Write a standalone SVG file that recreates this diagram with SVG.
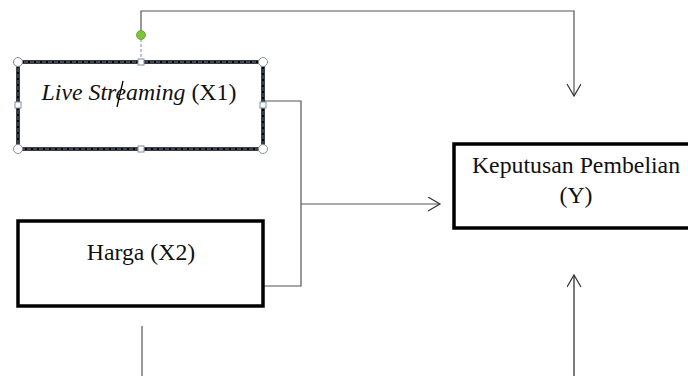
<svg xmlns="http://www.w3.org/2000/svg" width="688" height="376" viewBox="0 0 688 376">
<style>
.box{fill:#fff;stroke:#000;stroke-width:3.5}
.lbl{font-family:"Liberation Serif","Times New Roman",serif;font-size:23.8px;fill:#111;text-anchor:middle}
.con{fill:none;stroke:#555;stroke-width:1.2}
.arr{fill:none;stroke:#222;stroke-width:1.2}
.h-c{fill:#fff;stroke:#8a9099;stroke-width:1}
.h-s{fill:#fff;stroke:#7d8fa8;stroke-width:1}
</style>
<defs>
<marker id="open" markerWidth="16" markerHeight="16" refX="13" refY="7" orient="auto" markerUnits="userSpaceOnUse">
<path d="M1,0 L13,7 L1,14" fill="none" stroke="#333" stroke-width="1.2"/>
</marker>
</defs>
<rect width="688" height="376" fill="#fff"/>
<g id="connectors">
<path class="con" d="M141,35 V11 H574 V96" marker-end="url(#open)"/>
<path class="con" d="M263,101 H301 V286 H263"/>
<path class="con" d="M301,204 H440" marker-end="url(#open)"/>
<path class="con" d="M142,326 V376"/>
<path class="arr" d="M574,376 V275" marker-end="url(#open)"/>
</g>
<g id="x1">
<rect class="box" x="18" y="62" width="245" height="87"/>
<rect x="18" y="62" width="245" height="87" fill="none" stroke="#4a5d78" stroke-width="1.3" stroke-dasharray="4,2"/>
<text class="lbl" x="139" y="100"><tspan font-style="italic">Live Streaming</tspan> (X1)</text>
<line x1="123" y1="81" x2="117" y2="107" stroke="#000" stroke-width="1.3"/>
<line x1="141" y1="39" x2="141" y2="59" stroke="#7d8fa8" stroke-width="1" stroke-dasharray="3,2"/>
<circle cx="141" cy="35" r="4.5" fill="#7ec43b" stroke="#5a9a2a" stroke-width="0.8"/>
<circle class="h-c" cx="18" cy="62" r="4.5"/>
<circle class="h-c" cx="263" cy="62" r="4.5"/>
<circle class="h-c" cx="18" cy="149" r="4.5"/>
<circle class="h-c" cx="263" cy="149" r="4.5"/>
<rect class="h-s" x="138" y="59" width="6" height="6"/>
<rect class="h-s" x="138" y="146" width="6" height="6"/>
<rect class="h-s" x="15" y="102" width="6" height="6"/>
<rect class="h-s" x="260" y="102" width="6" height="6"/>
</g>
<g id="x2">
<rect class="box" x="18" y="221" width="245" height="85"/>
<text class="lbl" x="141" y="260">Harga (X2)</text>
</g>
<g id="y">
<rect class="box" x="454" y="144" width="250" height="84"/>
<text class="lbl" x="576" y="173">Keputusan Pembelian</text>
<text class="lbl" x="576" y="203">(Y)</text>
</g>
</svg>
